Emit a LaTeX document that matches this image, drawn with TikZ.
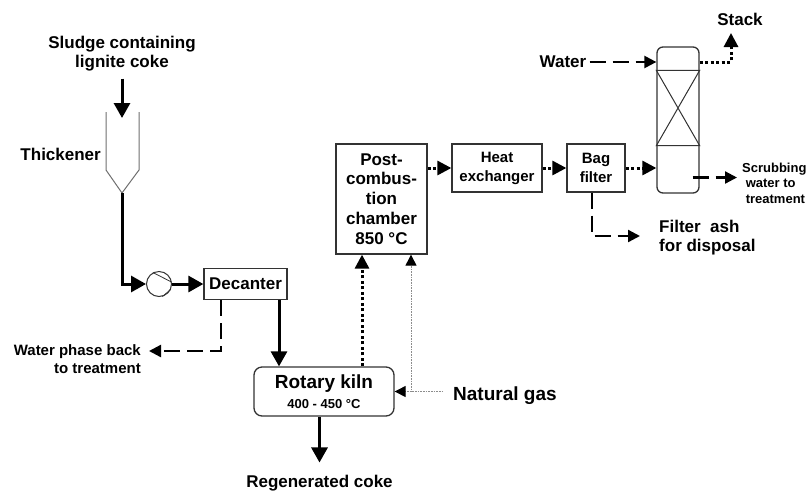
\documentclass[tikz,border=0pt]{standalone}
\usepackage{fontspec}
\setmainfont{Liberation Sans}
\usepackage{tikz}
\usetikzlibrary{arrows.meta,positioning,calc}
\usepackage{xcolor}
\definecolor{frame}{HTML}{333333}
\definecolor{vessel}{HTML}{6E6E6E}
\definecolor{gasline}{HTML}{8C8C8C}
\tikzset{
  unit/.style={draw=frame,line width=1.3pt,fill=white,align=center,inner sep=0pt,
    font=\bfseries\fontsize{17}{19.8}\selectfont},
  lbl/.style={align=center,inner sep=0pt,font=\bfseries\fontsize{17}{19}\selectfont},
  mainflow/.style={-{Triangle[length=15pt,width=16pt]},line width=3pt},
  fuelflow/.style={-{Triangle[length=14pt,width=14pt]},line width=3pt,
    dash pattern=on 3pt off 2.5pt},
  waterflow/.style={-{Triangle[length=12pt,width=12pt]},line width=2.3pt,
    dash pattern=on 16pt off 7pt},
  gasflow/.style={-{Triangle[length=11pt,width=11pt,color=black]},draw=gasline,
    line width=1pt,dash pattern=on 1pt off 0.6pt}
}

\begin{document}
\begin{tikzpicture}[x=1pt,y=-1pt]
  \useasboundingbox (0,0) rectangle (808,491);
  % thickener and pump
  \node[lbl] (sludge) at (122,54) {Sludge containing\\lignite coke};
  \coordinate (thkin) at (122,118);
  \coordinate (thkout) at (122,193);
  \draw[vessel,line width=1pt] (106,112) -- (106,170) -- (thkout) -- (139,170) -- (139,112);
  \node[lbl,anchor=base east] (thklbl) at (101,160) {Thickener};
  \draw[mainflow,shorten <=7pt] (sludge.south) -- (thkin);
  \node[circle,draw=frame,line width=1pt,minimum size=25pt,inner sep=0pt] (pump) at (159,284) {};
  \draw[frame,line width=0.8pt] (pump.118) -- (pump.8) (pump.-75) -- (pump.-25);
  \node[unit,minimum width=83pt,minimum height=31pt] (dec) at (245.5,284) {Decanter};
  \draw[mainflow] (thkout) |- (pump.west);
  \draw[mainflow] (pump.east) -- (dec.west);
  \node[lbl,align=right,anchor=north east,font=\bfseries\fontsize{15}{18}\selectfont]
    (wpb) at (141,344) {Water phase back\\to treatment};
  \draw[waterflow] ($(dec.south)+(-24.5,0)$) |- ($(wpb.north east)+(8,7)$);

  % kiln
  \node[unit,rounded corners=8pt,minimum width=140pt,minimum height=49pt,
    font=\bfseries\fontsize{19}{20}\selectfont] (kiln) at (324,391.5)
    {Rotary kiln\\{\fontsize{13}{14}\selectfont 400 - 450 °C}};
  \coordinate (decout) at ($(dec.south)+(33.5,0)$);
  \draw[mainflow] (decout) -- (decout |- kiln.north);
  \node[lbl,anchor=base] (coke) at (319.5,487) {Regenerated coke};
  \draw[mainflow,shorten >=12pt] (kiln.south -| coke) -- (coke.north);

  % gas line
  \node[unit,minimum width=91pt,minimum height=110pt] (pcc) at (381.5,199)
    {Post-\\combus-\\tion\\chamber\\850 °C};
  \coordinate (fluegas) at ($(pcc.south)+(-19.5,0)$);
  \coordinate (gasup) at ($(pcc.south)+(29.5,0)$);
  \draw[fuelflow] (fluegas |- kiln.north) -- (fluegas);
  \node[lbl,anchor=base west,font=\bfseries\fontsize{19}{20}\selectfont] (gas) at (453,400) {Natural gas};
  \draw[gasflow] ($(kiln.east -| gas.west)+(-10,0)$) -- (kiln.east);
  \draw[gasflow] (gasup |- kiln.east) -- (gasup);
  \node[unit,minimum width=90pt,minimum height=48pt,font=\bfseries\fontsize{15}{19}\selectfont]
    (hx) at (497,168) {Heat\\exchanger};
  \node[unit,minimum width=58pt,minimum height=48pt,font=\bfseries\fontsize{15}{19}\selectfont]
    (bag) at (596,168) {Bag\\filter};
  \draw[fuelflow] (pcc.east |- hx.west) -- (hx.west);
  \draw[fuelflow] (hx.east) -- (bag.west);
  \node[lbl,align=left,anchor=north west] (ash) at (659,220) {Filter~ ash\\for disposal};
  \draw[waterflow] ($(bag.south)+(-4,0)$) |- ($(ash.north west)+(-19,16)$);

  % scrubber
  \node[draw=frame,line width=1.3pt,rounded corners=6pt,minimum width=42pt,
    minimum height=146pt,inner sep=0pt] (scr) at (678,120) {};
  \draw[frame,line width=1pt] ($(scr.north west)+(0,24)$) -- ($(scr.north east)+(0,24)$)
    -- ($(scr.south west)+(0,-48)$) -- ($(scr.south east)+(0,-48)$) -- cycle;
  \draw[fuelflow] (bag.east) -- (bag.east -| scr.west);
  \node[lbl] (water) at (563,62) {Water};
  \draw[waterflow] ($(water.east)+(3,0)$) -- (water.east -| scr.west);
  \node[lbl] (stack) at (740,19) {Stack};
  \coordinate (stackin) at (731,33);
  \draw[fuelflow] (scr.east |- water) -| (stackin);
  \node[lbl,align=left,anchor=north west,font=\bfseries\fontsize{13}{15.5}\selectfont]
    (scrw) at (742,162.5) {Scrubbing\\\ water to\\\ treatment};
  \coordinate (scrwin) at ($(scrw.north west)+(-5,15)$);
  \draw[waterflow] ($(scr.east |- scrwin)+(-7,0)$) -- (scrwin);
\end{tikzpicture}
\end{document}
